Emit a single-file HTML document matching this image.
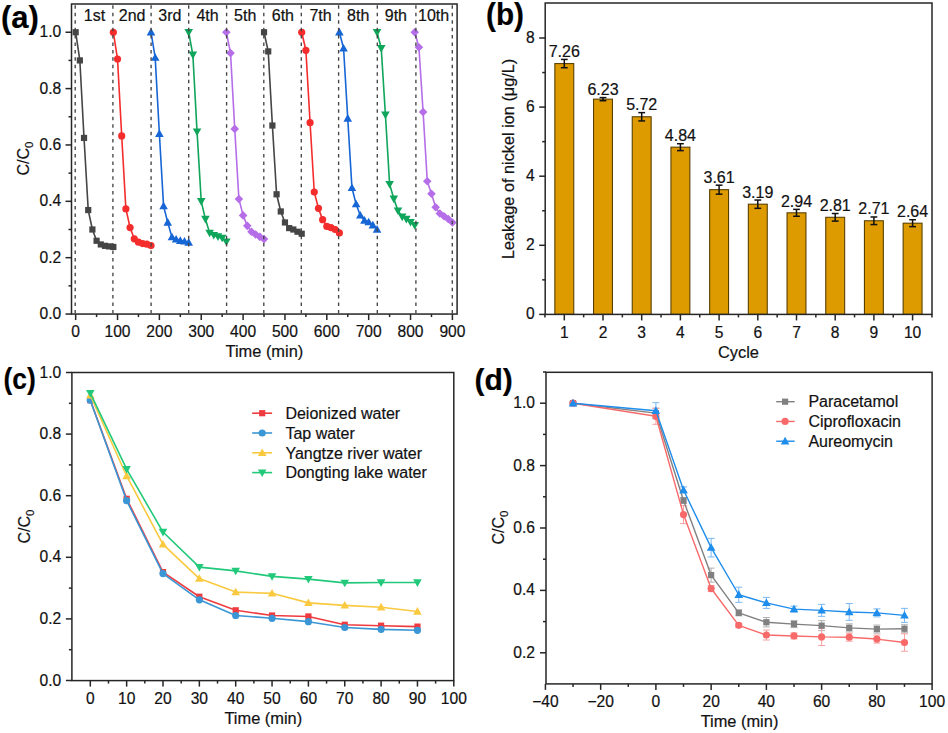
<!DOCTYPE html><html><head><meta charset="utf-8"><style>html,body{margin:0;padding:0;background:#fff;width:948px;height:733px;overflow:hidden}svg{display:block}</style></head><body><svg width="948" height="733" viewBox="0 0 948 733" font-family='"Liberation Sans", sans-serif'>
<rect width="948" height="733" fill="#fff"/>
<style>text{stroke:#111;stroke-width:0.2px;paint-order:stroke}</style>
<polyline points="75.66,32.24 79.85,60.42 84.03,137.92 88.22,210.06 92.4,229.5 96.59,240.77 100.78,244.44 104.96,245.84 109.15,246.41 113.33,246.97" fill="none" stroke="#454545" stroke-width="1.6" stroke-linejoin="round"/>
<rect x="72.56" y="29.14" width="6.2" height="6.2" fill="#454545"/>
<rect x="76.75" y="57.32" width="6.2" height="6.2" fill="#454545"/>
<rect x="80.93" y="134.82" width="6.2" height="6.2" fill="#454545"/>
<rect x="85.12" y="206.96" width="6.2" height="6.2" fill="#454545"/>
<rect x="89.3" y="226.4" width="6.2" height="6.2" fill="#454545"/>
<rect x="93.49" y="237.67" width="6.2" height="6.2" fill="#454545"/>
<rect x="97.68" y="241.34" width="6.2" height="6.2" fill="#454545"/>
<rect x="101.86" y="242.74" width="6.2" height="6.2" fill="#454545"/>
<rect x="106.05" y="243.31" width="6.2" height="6.2" fill="#454545"/>
<rect x="110.23" y="243.87" width="6.2" height="6.2" fill="#454545"/>
<polyline points="113.33,32.24 117.52,59.01 121.71,135.94 125.89,208.93 130.08,227.53 134.26,238.8 138.45,242.18 142.64,243.59 146.82,244.15 151.01,245.56" fill="none" stroke="#F42C2C" stroke-width="1.6" stroke-linejoin="round"/>
<circle cx="113.33" cy="32.24" r="3.6" fill="#F42C2C"/>
<circle cx="117.52" cy="59.01" r="3.6" fill="#F42C2C"/>
<circle cx="121.71" cy="135.94" r="3.6" fill="#F42C2C"/>
<circle cx="125.89" cy="208.93" r="3.6" fill="#F42C2C"/>
<circle cx="130.08" cy="227.53" r="3.6" fill="#F42C2C"/>
<circle cx="134.26" cy="238.8" r="3.6" fill="#F42C2C"/>
<circle cx="138.45" cy="242.18" r="3.6" fill="#F42C2C"/>
<circle cx="142.64" cy="243.59" r="3.6" fill="#F42C2C"/>
<circle cx="146.82" cy="244.15" r="3.6" fill="#F42C2C"/>
<circle cx="151.01" cy="245.56" r="3.6" fill="#F42C2C"/>
<polyline points="151.01,32.24 155.19,57.6 159.38,133.69 163.57,206.11 167.75,222.46 171.94,237.11 176.12,239.36 180.31,240.77 184.5,241.34 188.68,242.46" fill="none" stroke="#1766D6" stroke-width="1.6" stroke-linejoin="round"/>
<path d="M151.01 27.84L155.31 35.44L146.71 35.44Z" fill="#1766D6"/>
<path d="M155.19 53.2L159.49 60.8L150.89 60.8Z" fill="#1766D6"/>
<path d="M159.38 129.29L163.68 136.89L155.08 136.89Z" fill="#1766D6"/>
<path d="M163.57 201.71L167.87 209.31L159.27 209.31Z" fill="#1766D6"/>
<path d="M167.75 218.06L172.05 225.66L163.45 225.66Z" fill="#1766D6"/>
<path d="M171.94 232.71L176.24 240.31L167.64 240.31Z" fill="#1766D6"/>
<path d="M176.12 234.96L180.42 242.56L171.82 242.56Z" fill="#1766D6"/>
<path d="M180.31 236.37L184.61 243.97L176.01 243.97Z" fill="#1766D6"/>
<path d="M184.5 236.94L188.8 244.54L180.2 244.54Z" fill="#1766D6"/>
<path d="M188.68 238.06L192.98 245.66L184.38 245.66Z" fill="#1766D6"/>
<polyline points="188.68,32.24 192.87,54.78 197.05,131.72 201.24,201.32 205.43,219.07 209.61,232.88 213.8,235.14 217.98,236.55 222.17,237.95 226.36,241.62" fill="none" stroke="#0FA55A" stroke-width="1.6" stroke-linejoin="round"/>
<path d="M188.68 36.64L192.98 29.04L184.38 29.04Z" fill="#0FA55A"/>
<path d="M192.87 59.18L197.17 51.58L188.57 51.58Z" fill="#0FA55A"/>
<path d="M197.05 136.12L201.35 128.52L192.75 128.52Z" fill="#0FA55A"/>
<path d="M201.24 205.72L205.54 198.12L196.94 198.12Z" fill="#0FA55A"/>
<path d="M205.43 223.47L209.73 215.87L201.13 215.87Z" fill="#0FA55A"/>
<path d="M209.61 237.28L213.91 229.68L205.31 229.68Z" fill="#0FA55A"/>
<path d="M213.8 239.54L218.1 231.94L209.5 231.94Z" fill="#0FA55A"/>
<path d="M217.98 240.95L222.28 233.35L213.68 233.35Z" fill="#0FA55A"/>
<path d="M222.17 242.35L226.47 234.75L217.87 234.75Z" fill="#0FA55A"/>
<path d="M226.36 246.02L230.66 238.42L222.06 238.42Z" fill="#0FA55A"/>
<polyline points="226.36,32.24 230.54,53.09 234.73,128.9 238.91,199.07 243.1,215.41 247.29,225.84 251.47,231.75 255.66,234.57 259.84,236.83 264.03,239.08" fill="none" stroke="#B56EE8" stroke-width="1.6" stroke-linejoin="round"/>
<path d="M226.36 27.94L230.66 32.24L226.36 36.54L222.06 32.24Z" fill="#B56EE8"/>
<path d="M230.54 48.79L234.84 53.09L230.54 57.39L226.24 53.09Z" fill="#B56EE8"/>
<path d="M234.73 124.6L239.03 128.9L234.73 133.2L230.43 128.9Z" fill="#B56EE8"/>
<path d="M238.91 194.77L243.21 199.07L238.91 203.37L234.61 199.07Z" fill="#B56EE8"/>
<path d="M243.1 211.11L247.4 215.41L243.1 219.71L238.8 215.41Z" fill="#B56EE8"/>
<path d="M247.29 221.54L251.59 225.84L247.29 230.14L242.99 225.84Z" fill="#B56EE8"/>
<path d="M251.47 227.45L255.77 231.75L251.47 236.05L247.17 231.75Z" fill="#B56EE8"/>
<path d="M255.66 230.27L259.96 234.57L255.66 238.87L251.36 234.57Z" fill="#B56EE8"/>
<path d="M259.84 232.53L264.14 236.83L259.84 241.13L255.54 236.83Z" fill="#B56EE8"/>
<path d="M264.03 234.78L268.33 239.08L264.03 243.38L259.73 239.08Z" fill="#B56EE8"/>
<polyline points="264.03,32.24 268.22,51.4 272.4,125.52 276.59,194.28 280.77,211.46 284.96,222.46 289.15,228.09 293.33,229.5 297.52,231.75 301.7,233.73" fill="none" stroke="#454545" stroke-width="1.6" stroke-linejoin="round"/>
<rect x="260.93" y="29.14" width="6.2" height="6.2" fill="#454545"/>
<rect x="265.12" y="48.3" width="6.2" height="6.2" fill="#454545"/>
<rect x="269.3" y="122.42" width="6.2" height="6.2" fill="#454545"/>
<rect x="273.49" y="191.18" width="6.2" height="6.2" fill="#454545"/>
<rect x="277.67" y="208.36" width="6.2" height="6.2" fill="#454545"/>
<rect x="281.86" y="219.36" width="6.2" height="6.2" fill="#454545"/>
<rect x="286.05" y="224.99" width="6.2" height="6.2" fill="#454545"/>
<rect x="290.23" y="226.4" width="6.2" height="6.2" fill="#454545"/>
<rect x="294.42" y="228.65" width="6.2" height="6.2" fill="#454545"/>
<rect x="298.6" y="230.63" width="6.2" height="6.2" fill="#454545"/>
<polyline points="301.7,32.24 305.89,50.28 310.08,122.7 314.26,192.02 318.45,208.37 322.63,219.64 326.82,226.4 331.01,227.53 335.19,229.5 339.38,232.88" fill="none" stroke="#F42C2C" stroke-width="1.6" stroke-linejoin="round"/>
<circle cx="301.7" cy="32.24" r="3.6" fill="#F42C2C"/>
<circle cx="305.89" cy="50.28" r="3.6" fill="#F42C2C"/>
<circle cx="310.08" cy="122.7" r="3.6" fill="#F42C2C"/>
<circle cx="314.26" cy="192.02" r="3.6" fill="#F42C2C"/>
<circle cx="318.45" cy="208.37" r="3.6" fill="#F42C2C"/>
<circle cx="322.63" cy="219.64" r="3.6" fill="#F42C2C"/>
<circle cx="326.82" cy="226.4" r="3.6" fill="#F42C2C"/>
<circle cx="331.01" cy="227.53" r="3.6" fill="#F42C2C"/>
<circle cx="335.19" cy="229.5" r="3.6" fill="#F42C2C"/>
<circle cx="339.38" cy="232.88" r="3.6" fill="#F42C2C"/>
<polyline points="339.38,32.24 343.56,48.3 347.75,118.47 351.94,187.79 356.12,204.14 360.31,215.41 364.49,220.48 368.68,222.17 372.87,225.27 377.05,229.5" fill="none" stroke="#1766D6" stroke-width="1.6" stroke-linejoin="round"/>
<path d="M339.38 27.84L343.68 35.44L335.08 35.44Z" fill="#1766D6"/>
<path d="M343.56 43.9L347.86 51.5L339.26 51.5Z" fill="#1766D6"/>
<path d="M347.75 114.07L352.05 121.67L343.45 121.67Z" fill="#1766D6"/>
<path d="M351.94 183.39L356.24 190.99L347.64 190.99Z" fill="#1766D6"/>
<path d="M356.12 199.74L360.42 207.34L351.82 207.34Z" fill="#1766D6"/>
<path d="M360.31 211.01L364.61 218.61L356.01 218.61Z" fill="#1766D6"/>
<path d="M364.49 216.08L368.79 223.68L360.19 223.68Z" fill="#1766D6"/>
<path d="M368.68 217.77L372.98 225.37L364.38 225.37Z" fill="#1766D6"/>
<path d="M372.87 220.87L377.17 228.47L368.57 228.47Z" fill="#1766D6"/>
<path d="M377.05 225.1L381.35 232.7L372.75 232.7Z" fill="#1766D6"/>
<polyline points="377.05,32.24 381.24,48.3 385.42,114.81 389.61,184.13 393.8,198.78 397.98,210.62 402.17,216.82 406.35,219.07 410.54,222.17 414.73,225.27" fill="none" stroke="#0FA55A" stroke-width="1.6" stroke-linejoin="round"/>
<path d="M377.05 36.64L381.35 29.04L372.75 29.04Z" fill="#0FA55A"/>
<path d="M381.24 52.7L385.54 45.1L376.94 45.1Z" fill="#0FA55A"/>
<path d="M385.42 119.21L389.72 111.61L381.12 111.61Z" fill="#0FA55A"/>
<path d="M389.61 188.53L393.91 180.93L385.31 180.93Z" fill="#0FA55A"/>
<path d="M393.8 203.18L398.1 195.58L389.5 195.58Z" fill="#0FA55A"/>
<path d="M397.98 215.02L402.28 207.42L393.68 207.42Z" fill="#0FA55A"/>
<path d="M402.17 221.22L406.47 213.62L397.87 213.62Z" fill="#0FA55A"/>
<path d="M406.35 223.47L410.65 215.87L402.05 215.87Z" fill="#0FA55A"/>
<path d="M410.54 226.57L414.84 218.97L406.24 218.97Z" fill="#0FA55A"/>
<path d="M414.73 229.67L419.03 222.07L410.43 222.07Z" fill="#0FA55A"/>
<polyline points="414.73,32.24 418.91,47.18 423.1,111.99 427.28,181.31 431.47,193.71 435.66,207.24 439.84,213.44 444.03,216.26 448.21,219.07 452.4,222.46" fill="none" stroke="#B56EE8" stroke-width="1.6" stroke-linejoin="round"/>
<path d="M414.73 27.94L419.03 32.24L414.73 36.54L410.43 32.24Z" fill="#B56EE8"/>
<path d="M418.91 42.88L423.21 47.18L418.91 51.48L414.61 47.18Z" fill="#B56EE8"/>
<path d="M423.1 107.69L427.4 111.99L423.1 116.29L418.8 111.99Z" fill="#B56EE8"/>
<path d="M427.28 177.01L431.58 181.31L427.28 185.61L422.98 181.31Z" fill="#B56EE8"/>
<path d="M431.47 189.41L435.77 193.71L431.47 198.01L427.17 193.71Z" fill="#B56EE8"/>
<path d="M435.66 202.94L439.96 207.24L435.66 211.54L431.36 207.24Z" fill="#B56EE8"/>
<path d="M439.84 209.14L444.14 213.44L439.84 217.74L435.54 213.44Z" fill="#B56EE8"/>
<path d="M444.03 211.96L448.33 216.26L444.03 220.56L439.73 216.26Z" fill="#B56EE8"/>
<path d="M448.21 214.77L452.51 219.07L448.21 223.37L443.91 219.07Z" fill="#B56EE8"/>
<path d="M452.4 218.16L456.7 222.46L452.4 226.76L448.1 222.46Z" fill="#B56EE8"/>
<line x1="75.2" y1="4.75" x2="75.2" y2="313.3" stroke="#444" stroke-width="1.35" stroke-dasharray="3.5,3.93" stroke-dashoffset="-0.6"/>
<line x1="112.9" y1="4.75" x2="112.9" y2="313.3" stroke="#444" stroke-width="1.35" stroke-dasharray="3.5,3.93" stroke-dashoffset="-0.6"/>
<line x1="151.1" y1="4.75" x2="151.1" y2="313.3" stroke="#444" stroke-width="1.35" stroke-dasharray="3.5,3.93" stroke-dashoffset="-0.6"/>
<line x1="188.7" y1="4.75" x2="188.7" y2="313.3" stroke="#444" stroke-width="1.35" stroke-dasharray="3.5,3.93" stroke-dashoffset="-0.6"/>
<line x1="226.6" y1="4.75" x2="226.6" y2="313.3" stroke="#444" stroke-width="1.35" stroke-dasharray="3.5,3.93" stroke-dashoffset="-0.6"/>
<line x1="263.8" y1="4.75" x2="263.8" y2="313.3" stroke="#444" stroke-width="1.35" stroke-dasharray="3.5,3.93" stroke-dashoffset="-0.6"/>
<line x1="301.3" y1="4.75" x2="301.3" y2="313.3" stroke="#444" stroke-width="1.35" stroke-dasharray="3.5,3.93" stroke-dashoffset="-0.6"/>
<line x1="338.6" y1="4.75" x2="338.6" y2="313.3" stroke="#444" stroke-width="1.35" stroke-dasharray="3.5,3.93" stroke-dashoffset="-0.6"/>
<line x1="377.3" y1="4.75" x2="377.3" y2="313.3" stroke="#444" stroke-width="1.35" stroke-dasharray="3.5,3.93" stroke-dashoffset="-0.6"/>
<line x1="415.9" y1="4.75" x2="415.9" y2="313.3" stroke="#444" stroke-width="1.35" stroke-dasharray="3.5,3.93" stroke-dashoffset="-0.6"/>
<line x1="452.3" y1="4.75" x2="452.3" y2="313.3" stroke="#444" stroke-width="1.35" stroke-dasharray="3.5,3.93" stroke-dashoffset="-0.6"/>
<rect x="71.5" y="4" width="385.6" height="310.05" fill="none" stroke="#262626" stroke-width="1.5"/>
<line x1="68.5" y1="285.86" x2="71.5" y2="285.86" stroke="#262626" stroke-width="1.5" />
<line x1="68.5" y1="229.5" x2="71.5" y2="229.5" stroke="#262626" stroke-width="1.5" />
<line x1="68.5" y1="173.14" x2="71.5" y2="173.14" stroke="#262626" stroke-width="1.5" />
<line x1="68.5" y1="116.78" x2="71.5" y2="116.78" stroke="#262626" stroke-width="1.5" />
<line x1="68.5" y1="60.42" x2="71.5" y2="60.42" stroke="#262626" stroke-width="1.5" />
<line x1="65.5" y1="314.04" x2="71.5" y2="314.04" stroke="#262626" stroke-width="1.5" />
<text x="61.2" y="319.04" font-size="15.6" text-anchor="end" font-weight="normal" fill="#111" >0.0</text>
<line x1="65.5" y1="257.68" x2="71.5" y2="257.68" stroke="#262626" stroke-width="1.5" />
<text x="61.2" y="262.68" font-size="15.6" text-anchor="end" font-weight="normal" fill="#111" >0.2</text>
<line x1="65.5" y1="201.32" x2="71.5" y2="201.32" stroke="#262626" stroke-width="1.5" />
<text x="61.2" y="206.32" font-size="15.6" text-anchor="end" font-weight="normal" fill="#111" >0.4</text>
<line x1="65.5" y1="144.96" x2="71.5" y2="144.96" stroke="#262626" stroke-width="1.5" />
<text x="61.2" y="149.96" font-size="15.6" text-anchor="end" font-weight="normal" fill="#111" >0.6</text>
<line x1="65.5" y1="88.6" x2="71.5" y2="88.6" stroke="#262626" stroke-width="1.5" />
<text x="61.2" y="93.6" font-size="15.6" text-anchor="end" font-weight="normal" fill="#111" >0.8</text>
<line x1="65.5" y1="32.24" x2="71.5" y2="32.24" stroke="#262626" stroke-width="1.5" />
<text x="61.2" y="37.24" font-size="15.6" text-anchor="end" font-weight="normal" fill="#111" >1.0</text>
<line x1="96.59" y1="314.05" x2="96.59" y2="317.05" stroke="#262626" stroke-width="1.5" />
<line x1="138.45" y1="314.05" x2="138.45" y2="317.05" stroke="#262626" stroke-width="1.5" />
<line x1="180.31" y1="314.05" x2="180.31" y2="317.05" stroke="#262626" stroke-width="1.5" />
<line x1="222.17" y1="314.05" x2="222.17" y2="317.05" stroke="#262626" stroke-width="1.5" />
<line x1="264.03" y1="314.05" x2="264.03" y2="317.05" stroke="#262626" stroke-width="1.5" />
<line x1="305.89" y1="314.05" x2="305.89" y2="317.05" stroke="#262626" stroke-width="1.5" />
<line x1="347.75" y1="314.05" x2="347.75" y2="317.05" stroke="#262626" stroke-width="1.5" />
<line x1="389.61" y1="314.05" x2="389.61" y2="317.05" stroke="#262626" stroke-width="1.5" />
<line x1="431.47" y1="314.05" x2="431.47" y2="317.05" stroke="#262626" stroke-width="1.5" />
<line x1="75.66" y1="314.05" x2="75.66" y2="320.05" stroke="#262626" stroke-width="1.5" />
<text x="75.66" y="337" font-size="15.6" text-anchor="middle" font-weight="normal" fill="#111" >0</text>
<line x1="117.52" y1="314.05" x2="117.52" y2="320.05" stroke="#262626" stroke-width="1.5" />
<text x="117.52" y="337" font-size="15.6" text-anchor="middle" font-weight="normal" fill="#111" >100</text>
<line x1="159.38" y1="314.05" x2="159.38" y2="320.05" stroke="#262626" stroke-width="1.5" />
<text x="159.38" y="337" font-size="15.6" text-anchor="middle" font-weight="normal" fill="#111" >200</text>
<line x1="201.24" y1="314.05" x2="201.24" y2="320.05" stroke="#262626" stroke-width="1.5" />
<text x="201.24" y="337" font-size="15.6" text-anchor="middle" font-weight="normal" fill="#111" >300</text>
<line x1="243.1" y1="314.05" x2="243.1" y2="320.05" stroke="#262626" stroke-width="1.5" />
<text x="243.1" y="337" font-size="15.6" text-anchor="middle" font-weight="normal" fill="#111" >400</text>
<line x1="284.96" y1="314.05" x2="284.96" y2="320.05" stroke="#262626" stroke-width="1.5" />
<text x="284.96" y="337" font-size="15.6" text-anchor="middle" font-weight="normal" fill="#111" >500</text>
<line x1="326.82" y1="314.05" x2="326.82" y2="320.05" stroke="#262626" stroke-width="1.5" />
<text x="326.82" y="337" font-size="15.6" text-anchor="middle" font-weight="normal" fill="#111" >600</text>
<line x1="368.68" y1="314.05" x2="368.68" y2="320.05" stroke="#262626" stroke-width="1.5" />
<text x="368.68" y="337" font-size="15.6" text-anchor="middle" font-weight="normal" fill="#111" >700</text>
<line x1="410.54" y1="314.05" x2="410.54" y2="320.05" stroke="#262626" stroke-width="1.5" />
<text x="410.54" y="337" font-size="15.6" text-anchor="middle" font-weight="normal" fill="#111" >800</text>
<line x1="452.4" y1="314.05" x2="452.4" y2="320.05" stroke="#262626" stroke-width="1.5" />
<text x="452.4" y="337" font-size="15.6" text-anchor="middle" font-weight="normal" fill="#111" >900</text>
<text x="94.5" y="20.8" font-size="16" text-anchor="middle" font-weight="normal" fill="#111" >1st</text>
<text x="132.17" y="20.8" font-size="16" text-anchor="middle" font-weight="normal" fill="#111" >2nd</text>
<text x="169.84" y="20.8" font-size="16" text-anchor="middle" font-weight="normal" fill="#111" >3rd</text>
<text x="207.52" y="20.8" font-size="16" text-anchor="middle" font-weight="normal" fill="#111" >4th</text>
<text x="245.19" y="20.8" font-size="16" text-anchor="middle" font-weight="normal" fill="#111" >5th</text>
<text x="282.87" y="20.8" font-size="16" text-anchor="middle" font-weight="normal" fill="#111" >6th</text>
<text x="320.54" y="20.8" font-size="16" text-anchor="middle" font-weight="normal" fill="#111" >7th</text>
<text x="358.22" y="20.8" font-size="16" text-anchor="middle" font-weight="normal" fill="#111" >8th</text>
<text x="395.89" y="20.8" font-size="16" text-anchor="middle" font-weight="normal" fill="#111" >9th</text>
<text x="433.56" y="20.8" font-size="16" text-anchor="middle" font-weight="normal" fill="#111" >10th</text>
<text x="264.4" y="357" font-size="16.4" text-anchor="middle" font-weight="normal" fill="#111" >Time (min)</text>
<text transform="translate(28.5,158.5) rotate(-90)" x="0" y="0" font-size="16" text-anchor="middle" fill="#111">C/C<tspan font-size="11.52" dy="4">0</tspan></text>
<text x="1" y="28.3" font-size="31" text-anchor="start" font-weight="bold" fill="#000" >(a)</text>
<rect x="554.85" y="63.57" width="18.9" height="250.83" fill="#DE9B00" stroke="#5a4000" stroke-width="1.1"/>
<line x1="564.3" y1="59.42" x2="564.3" y2="67.71" stroke="#111" stroke-width="1.5" />
<line x1="560.9" y1="59.42" x2="567.7" y2="59.42" stroke="#111" stroke-width="1.5" />
<line x1="560.9" y1="67.71" x2="567.7" y2="67.71" stroke="#111" stroke-width="1.5" />
<text x="564.3" y="56.92" font-size="16" text-anchor="middle" font-weight="normal" fill="#111" >7.26</text>
<rect x="593.55" y="99.15" width="18.9" height="215.25" fill="#DE9B00" stroke="#5a4000" stroke-width="1.1"/>
<line x1="603" y1="97.6" x2="603" y2="100.71" stroke="#111" stroke-width="1.5" />
<line x1="599.6" y1="97.6" x2="606.4" y2="97.6" stroke="#111" stroke-width="1.5" />
<line x1="599.6" y1="100.71" x2="606.4" y2="100.71" stroke="#111" stroke-width="1.5" />
<text x="603" y="95.1" font-size="16" text-anchor="middle" font-weight="normal" fill="#111" >6.23</text>
<rect x="632.25" y="116.77" width="18.9" height="197.63" fill="#DE9B00" stroke="#5a4000" stroke-width="1.1"/>
<line x1="641.7" y1="112.63" x2="641.7" y2="120.92" stroke="#111" stroke-width="1.5" />
<line x1="638.3" y1="112.63" x2="645.1" y2="112.63" stroke="#111" stroke-width="1.5" />
<line x1="638.3" y1="120.92" x2="645.1" y2="120.92" stroke="#111" stroke-width="1.5" />
<text x="641.7" y="110.13" font-size="16" text-anchor="middle" font-weight="normal" fill="#111" >5.72</text>
<rect x="670.95" y="147.18" width="18.9" height="167.22" fill="#DE9B00" stroke="#5a4000" stroke-width="1.1"/>
<line x1="680.4" y1="143.72" x2="680.4" y2="150.63" stroke="#111" stroke-width="1.5" />
<line x1="677" y1="143.72" x2="683.8" y2="143.72" stroke="#111" stroke-width="1.5" />
<line x1="677" y1="150.63" x2="683.8" y2="150.63" stroke="#111" stroke-width="1.5" />
<text x="680.4" y="141.22" font-size="16" text-anchor="middle" font-weight="normal" fill="#111" >4.84</text>
<rect x="709.65" y="189.67" width="18.9" height="124.73" fill="#DE9B00" stroke="#5a4000" stroke-width="1.1"/>
<line x1="719.1" y1="185.18" x2="719.1" y2="194.17" stroke="#111" stroke-width="1.5" />
<line x1="715.7" y1="185.18" x2="722.5" y2="185.18" stroke="#111" stroke-width="1.5" />
<line x1="715.7" y1="194.17" x2="722.5" y2="194.17" stroke="#111" stroke-width="1.5" />
<text x="719.1" y="182.68" font-size="16" text-anchor="middle" font-weight="normal" fill="#111" >3.61</text>
<rect x="748.35" y="204.19" width="18.9" height="110.21" fill="#DE9B00" stroke="#5a4000" stroke-width="1.1"/>
<line x1="757.8" y1="200.04" x2="757.8" y2="208.33" stroke="#111" stroke-width="1.5" />
<line x1="754.4" y1="200.04" x2="761.2" y2="200.04" stroke="#111" stroke-width="1.5" />
<line x1="754.4" y1="208.33" x2="761.2" y2="208.33" stroke="#111" stroke-width="1.5" />
<text x="757.8" y="197.54" font-size="16" text-anchor="middle" font-weight="normal" fill="#111" >3.19</text>
<rect x="787.05" y="212.82" width="18.9" height="101.58" fill="#DE9B00" stroke="#5a4000" stroke-width="1.1"/>
<line x1="796.5" y1="209.37" x2="796.5" y2="216.28" stroke="#111" stroke-width="1.5" />
<line x1="793.1" y1="209.37" x2="799.9" y2="209.37" stroke="#111" stroke-width="1.5" />
<line x1="793.1" y1="216.28" x2="799.9" y2="216.28" stroke="#111" stroke-width="1.5" />
<text x="796.5" y="206.87" font-size="16" text-anchor="middle" font-weight="normal" fill="#111" >2.94</text>
<rect x="825.75" y="217.31" width="18.9" height="97.09" fill="#DE9B00" stroke="#5a4000" stroke-width="1.1"/>
<line x1="835.2" y1="213.51" x2="835.2" y2="221.11" stroke="#111" stroke-width="1.5" />
<line x1="831.8" y1="213.51" x2="838.6" y2="213.51" stroke="#111" stroke-width="1.5" />
<line x1="831.8" y1="221.11" x2="838.6" y2="221.11" stroke="#111" stroke-width="1.5" />
<text x="835.2" y="211.01" font-size="16" text-anchor="middle" font-weight="normal" fill="#111" >2.81</text>
<rect x="864.45" y="220.77" width="18.9" height="93.63" fill="#DE9B00" stroke="#5a4000" stroke-width="1.1"/>
<line x1="873.9" y1="216.97" x2="873.9" y2="224.57" stroke="#111" stroke-width="1.5" />
<line x1="870.5" y1="216.97" x2="877.3" y2="216.97" stroke="#111" stroke-width="1.5" />
<line x1="870.5" y1="224.57" x2="877.3" y2="224.57" stroke="#111" stroke-width="1.5" />
<text x="873.9" y="214.47" font-size="16" text-anchor="middle" font-weight="normal" fill="#111" >2.71</text>
<rect x="903.15" y="223.19" width="18.9" height="91.21" fill="#DE9B00" stroke="#5a4000" stroke-width="1.1"/>
<line x1="912.6" y1="219.73" x2="912.6" y2="226.64" stroke="#111" stroke-width="1.5" />
<line x1="909.2" y1="219.73" x2="916" y2="219.73" stroke="#111" stroke-width="1.5" />
<line x1="909.2" y1="226.64" x2="916" y2="226.64" stroke="#111" stroke-width="1.5" />
<text x="912.6" y="217.23" font-size="16" text-anchor="middle" font-weight="normal" fill="#111" >2.64</text>
<rect x="545.2" y="3" width="386.8" height="311.4" fill="none" stroke="#262626" stroke-width="1.5"/>
<line x1="542.2" y1="279.85" x2="545.2" y2="279.85" stroke="#262626" stroke-width="1.5" />
<line x1="542.2" y1="210.75" x2="545.2" y2="210.75" stroke="#262626" stroke-width="1.5" />
<line x1="542.2" y1="141.65" x2="545.2" y2="141.65" stroke="#262626" stroke-width="1.5" />
<line x1="542.2" y1="72.55" x2="545.2" y2="72.55" stroke="#262626" stroke-width="1.5" />
<line x1="539.2" y1="314.4" x2="545.2" y2="314.4" stroke="#262626" stroke-width="1.5" />
<text x="534.8" y="319.4" font-size="15.6" text-anchor="end" font-weight="normal" fill="#111" >0</text>
<line x1="539.2" y1="245.3" x2="545.2" y2="245.3" stroke="#262626" stroke-width="1.5" />
<text x="534.8" y="250.3" font-size="15.6" text-anchor="end" font-weight="normal" fill="#111" >2</text>
<line x1="539.2" y1="176.2" x2="545.2" y2="176.2" stroke="#262626" stroke-width="1.5" />
<text x="534.8" y="181.2" font-size="15.6" text-anchor="end" font-weight="normal" fill="#111" >4</text>
<line x1="539.2" y1="107.1" x2="545.2" y2="107.1" stroke="#262626" stroke-width="1.5" />
<text x="534.8" y="112.1" font-size="15.6" text-anchor="end" font-weight="normal" fill="#111" >6</text>
<line x1="539.2" y1="38" x2="545.2" y2="38" stroke="#262626" stroke-width="1.5" />
<text x="534.8" y="43" font-size="15.6" text-anchor="end" font-weight="normal" fill="#111" >8</text>
<line x1="544.95" y1="314.4" x2="544.95" y2="317.4" stroke="#262626" stroke-width="1.5" />
<line x1="583.65" y1="314.4" x2="583.65" y2="317.4" stroke="#262626" stroke-width="1.5" />
<line x1="622.35" y1="314.4" x2="622.35" y2="317.4" stroke="#262626" stroke-width="1.5" />
<line x1="661.05" y1="314.4" x2="661.05" y2="317.4" stroke="#262626" stroke-width="1.5" />
<line x1="699.75" y1="314.4" x2="699.75" y2="317.4" stroke="#262626" stroke-width="1.5" />
<line x1="738.45" y1="314.4" x2="738.45" y2="317.4" stroke="#262626" stroke-width="1.5" />
<line x1="777.15" y1="314.4" x2="777.15" y2="317.4" stroke="#262626" stroke-width="1.5" />
<line x1="815.85" y1="314.4" x2="815.85" y2="317.4" stroke="#262626" stroke-width="1.5" />
<line x1="854.55" y1="314.4" x2="854.55" y2="317.4" stroke="#262626" stroke-width="1.5" />
<line x1="893.25" y1="314.4" x2="893.25" y2="317.4" stroke="#262626" stroke-width="1.5" />
<line x1="931.95" y1="314.4" x2="931.95" y2="317.4" stroke="#262626" stroke-width="1.5" />
<line x1="564.3" y1="314.4" x2="564.3" y2="320.4" stroke="#262626" stroke-width="1.5" />
<text x="564.3" y="338" font-size="15.6" text-anchor="middle" font-weight="normal" fill="#111" >1</text>
<line x1="603" y1="314.4" x2="603" y2="320.4" stroke="#262626" stroke-width="1.5" />
<text x="603" y="338" font-size="15.6" text-anchor="middle" font-weight="normal" fill="#111" >2</text>
<line x1="641.7" y1="314.4" x2="641.7" y2="320.4" stroke="#262626" stroke-width="1.5" />
<text x="641.7" y="338" font-size="15.6" text-anchor="middle" font-weight="normal" fill="#111" >3</text>
<line x1="680.4" y1="314.4" x2="680.4" y2="320.4" stroke="#262626" stroke-width="1.5" />
<text x="680.4" y="338" font-size="15.6" text-anchor="middle" font-weight="normal" fill="#111" >4</text>
<line x1="719.1" y1="314.4" x2="719.1" y2="320.4" stroke="#262626" stroke-width="1.5" />
<text x="719.1" y="338" font-size="15.6" text-anchor="middle" font-weight="normal" fill="#111" >5</text>
<line x1="757.8" y1="314.4" x2="757.8" y2="320.4" stroke="#262626" stroke-width="1.5" />
<text x="757.8" y="338" font-size="15.6" text-anchor="middle" font-weight="normal" fill="#111" >6</text>
<line x1="796.5" y1="314.4" x2="796.5" y2="320.4" stroke="#262626" stroke-width="1.5" />
<text x="796.5" y="338" font-size="15.6" text-anchor="middle" font-weight="normal" fill="#111" >7</text>
<line x1="835.2" y1="314.4" x2="835.2" y2="320.4" stroke="#262626" stroke-width="1.5" />
<text x="835.2" y="338" font-size="15.6" text-anchor="middle" font-weight="normal" fill="#111" >8</text>
<line x1="873.9" y1="314.4" x2="873.9" y2="320.4" stroke="#262626" stroke-width="1.5" />
<text x="873.9" y="338" font-size="15.6" text-anchor="middle" font-weight="normal" fill="#111" >9</text>
<line x1="912.6" y1="314.4" x2="912.6" y2="320.4" stroke="#262626" stroke-width="1.5" />
<text x="912.6" y="338" font-size="15.6" text-anchor="middle" font-weight="normal" fill="#111" >10</text>
<text x="738.5" y="357.5" font-size="16.4" text-anchor="middle" font-weight="normal" fill="#111" >Cycle</text>
<text transform="translate(514,158.9) rotate(-90)" font-size="16.3" text-anchor="middle" fill="#111">Leakage of nickel ion (μg/L)</text>
<text transform="translate(486,25.4) scale(0.93,1)" font-size="32" font-weight="bold" fill="#000">(b)</text>
<polyline points="90.3,400.22 126.65,498.78 163,572.08 199.35,596.72 235.7,610.28 272.05,615.51 308.4,616.44 344.75,624.75 381.1,625.68 417.45,626.6" fill="none" stroke="#EF3B3F" stroke-width="1.6" stroke-linejoin="round"/>
<rect x="87.2" y="397.12" width="6.2" height="6.2" fill="#EF3B3F"/>
<rect x="123.55" y="495.68" width="6.2" height="6.2" fill="#EF3B3F"/>
<rect x="159.9" y="568.98" width="6.2" height="6.2" fill="#EF3B3F"/>
<rect x="196.25" y="593.62" width="6.2" height="6.2" fill="#EF3B3F"/>
<rect x="232.6" y="607.18" width="6.2" height="6.2" fill="#EF3B3F"/>
<rect x="268.95" y="612.41" width="6.2" height="6.2" fill="#EF3B3F"/>
<rect x="305.3" y="613.34" width="6.2" height="6.2" fill="#EF3B3F"/>
<rect x="341.65" y="621.65" width="6.2" height="6.2" fill="#EF3B3F"/>
<rect x="378" y="622.58" width="6.2" height="6.2" fill="#EF3B3F"/>
<rect x="414.35" y="623.5" width="6.2" height="6.2" fill="#EF3B3F"/>
<polyline points="90.3,400.22 126.65,500.63 163,573.62 199.35,599.8 235.7,615.51 272.05,618.28 308.4,621.67 344.75,627.52 381.1,629.37 417.45,630.3" fill="none" stroke="#3A96D4" stroke-width="1.6" stroke-linejoin="round"/>
<circle cx="90.3" cy="400.22" r="3.6" fill="#3A96D4"/>
<circle cx="126.65" cy="500.63" r="3.6" fill="#3A96D4"/>
<circle cx="163" cy="573.62" r="3.6" fill="#3A96D4"/>
<circle cx="199.35" cy="599.8" r="3.6" fill="#3A96D4"/>
<circle cx="235.7" cy="615.51" r="3.6" fill="#3A96D4"/>
<circle cx="272.05" cy="618.28" r="3.6" fill="#3A96D4"/>
<circle cx="308.4" cy="621.67" r="3.6" fill="#3A96D4"/>
<circle cx="344.75" cy="627.52" r="3.6" fill="#3A96D4"/>
<circle cx="381.1" cy="629.37" r="3.6" fill="#3A96D4"/>
<circle cx="417.45" cy="630.3" r="3.6" fill="#3A96D4"/>
<polyline points="90.3,395.29 126.65,475.99 163,544.36 199.35,578.55 235.7,592.1 272.05,593.34 308.4,602.88 344.75,605.35 381.1,607.2 417.45,611.51" fill="none" stroke="#F9C940" stroke-width="1.6" stroke-linejoin="round"/>
<path d="M90.3 390.89L94.6 398.49L86 398.49Z" fill="#F9C940"/>
<path d="M126.65 471.59L130.95 479.19L122.35 479.19Z" fill="#F9C940"/>
<path d="M163 539.96L167.3 547.56L158.7 547.56Z" fill="#F9C940"/>
<path d="M199.35 574.15L203.65 581.75L195.05 581.75Z" fill="#F9C940"/>
<path d="M235.7 587.7L240 595.3L231.4 595.3Z" fill="#F9C940"/>
<path d="M272.05 588.94L276.35 596.54L267.75 596.54Z" fill="#F9C940"/>
<path d="M308.4 598.48L312.7 606.08L304.1 606.08Z" fill="#F9C940"/>
<path d="M344.75 600.95L349.05 608.55L340.45 608.55Z" fill="#F9C940"/>
<path d="M381.1 602.8L385.4 610.4L376.8 610.4Z" fill="#F9C940"/>
<path d="M417.45 607.11L421.75 614.71L413.15 614.71Z" fill="#F9C940"/>
<polyline points="90.3,393.14 126.65,469.21 163,532.04 199.35,567.16 235.7,570.85 272.05,576.4 308.4,579.17 344.75,582.86 381.1,582.56 417.45,582.56" fill="none" stroke="#22C97A" stroke-width="1.6" stroke-linejoin="round"/>
<path d="M90.3 397.54L94.6 389.94L86 389.94Z" fill="#22C97A"/>
<path d="M126.65 473.61L130.95 466.01L122.35 466.01Z" fill="#22C97A"/>
<path d="M163 536.44L167.3 528.84L158.7 528.84Z" fill="#22C97A"/>
<path d="M199.35 571.56L203.65 563.96L195.05 563.96Z" fill="#22C97A"/>
<path d="M235.7 575.25L240 567.65L231.4 567.65Z" fill="#22C97A"/>
<path d="M272.05 580.8L276.35 573.2L267.75 573.2Z" fill="#22C97A"/>
<path d="M308.4 583.57L312.7 575.97L304.1 575.97Z" fill="#22C97A"/>
<path d="M344.75 587.26L349.05 579.66L340.45 579.66Z" fill="#22C97A"/>
<path d="M381.1 586.96L385.4 579.36L376.8 579.36Z" fill="#22C97A"/>
<path d="M417.45 586.96L421.75 579.36L413.15 579.36Z" fill="#22C97A"/>
<rect x="71.9" y="372.5" width="381.9" height="308.1" fill="none" stroke="#262626" stroke-width="1.5"/>
<line x1="68.9" y1="649.7" x2="71.9" y2="649.7" stroke="#262626" stroke-width="1.5" />
<line x1="68.9" y1="588.1" x2="71.9" y2="588.1" stroke="#262626" stroke-width="1.5" />
<line x1="68.9" y1="526.5" x2="71.9" y2="526.5" stroke="#262626" stroke-width="1.5" />
<line x1="68.9" y1="464.9" x2="71.9" y2="464.9" stroke="#262626" stroke-width="1.5" />
<line x1="68.9" y1="403.3" x2="71.9" y2="403.3" stroke="#262626" stroke-width="1.5" />
<line x1="65.9" y1="680.5" x2="71.9" y2="680.5" stroke="#262626" stroke-width="1.5" />
<text x="61.2" y="685.5" font-size="15.6" text-anchor="end" font-weight="normal" fill="#111" >0.0</text>
<line x1="65.9" y1="618.9" x2="71.9" y2="618.9" stroke="#262626" stroke-width="1.5" />
<text x="61.2" y="623.9" font-size="15.6" text-anchor="end" font-weight="normal" fill="#111" >0.2</text>
<line x1="65.9" y1="557.3" x2="71.9" y2="557.3" stroke="#262626" stroke-width="1.5" />
<text x="61.2" y="562.3" font-size="15.6" text-anchor="end" font-weight="normal" fill="#111" >0.4</text>
<line x1="65.9" y1="495.7" x2="71.9" y2="495.7" stroke="#262626" stroke-width="1.5" />
<text x="61.2" y="500.7" font-size="15.6" text-anchor="end" font-weight="normal" fill="#111" >0.6</text>
<line x1="65.9" y1="434.1" x2="71.9" y2="434.1" stroke="#262626" stroke-width="1.5" />
<text x="61.2" y="439.1" font-size="15.6" text-anchor="end" font-weight="normal" fill="#111" >0.8</text>
<line x1="65.9" y1="372.5" x2="71.9" y2="372.5" stroke="#262626" stroke-width="1.5" />
<text x="61.2" y="377.5" font-size="15.6" text-anchor="end" font-weight="normal" fill="#111" >1.0</text>
<line x1="108.47" y1="680.6" x2="108.47" y2="683.6" stroke="#262626" stroke-width="1.5" />
<line x1="144.82" y1="680.6" x2="144.82" y2="683.6" stroke="#262626" stroke-width="1.5" />
<line x1="181.18" y1="680.6" x2="181.18" y2="683.6" stroke="#262626" stroke-width="1.5" />
<line x1="217.52" y1="680.6" x2="217.52" y2="683.6" stroke="#262626" stroke-width="1.5" />
<line x1="253.88" y1="680.6" x2="253.88" y2="683.6" stroke="#262626" stroke-width="1.5" />
<line x1="290.22" y1="680.6" x2="290.22" y2="683.6" stroke="#262626" stroke-width="1.5" />
<line x1="326.57" y1="680.6" x2="326.57" y2="683.6" stroke="#262626" stroke-width="1.5" />
<line x1="362.93" y1="680.6" x2="362.93" y2="683.6" stroke="#262626" stroke-width="1.5" />
<line x1="399.27" y1="680.6" x2="399.27" y2="683.6" stroke="#262626" stroke-width="1.5" />
<line x1="435.62" y1="680.6" x2="435.62" y2="683.6" stroke="#262626" stroke-width="1.5" />
<line x1="90.3" y1="680.6" x2="90.3" y2="686.6" stroke="#262626" stroke-width="1.5" />
<text x="90.3" y="703.5" font-size="15.6" text-anchor="middle" font-weight="normal" fill="#111" >0</text>
<line x1="126.65" y1="680.6" x2="126.65" y2="686.6" stroke="#262626" stroke-width="1.5" />
<text x="126.65" y="703.5" font-size="15.6" text-anchor="middle" font-weight="normal" fill="#111" >10</text>
<line x1="163" y1="680.6" x2="163" y2="686.6" stroke="#262626" stroke-width="1.5" />
<text x="163" y="703.5" font-size="15.6" text-anchor="middle" font-weight="normal" fill="#111" >20</text>
<line x1="199.35" y1="680.6" x2="199.35" y2="686.6" stroke="#262626" stroke-width="1.5" />
<text x="199.35" y="703.5" font-size="15.6" text-anchor="middle" font-weight="normal" fill="#111" >30</text>
<line x1="235.7" y1="680.6" x2="235.7" y2="686.6" stroke="#262626" stroke-width="1.5" />
<text x="235.7" y="703.5" font-size="15.6" text-anchor="middle" font-weight="normal" fill="#111" >40</text>
<line x1="272.05" y1="680.6" x2="272.05" y2="686.6" stroke="#262626" stroke-width="1.5" />
<text x="272.05" y="703.5" font-size="15.6" text-anchor="middle" font-weight="normal" fill="#111" >50</text>
<line x1="308.4" y1="680.6" x2="308.4" y2="686.6" stroke="#262626" stroke-width="1.5" />
<text x="308.4" y="703.5" font-size="15.6" text-anchor="middle" font-weight="normal" fill="#111" >60</text>
<line x1="344.75" y1="680.6" x2="344.75" y2="686.6" stroke="#262626" stroke-width="1.5" />
<text x="344.75" y="703.5" font-size="15.6" text-anchor="middle" font-weight="normal" fill="#111" >70</text>
<line x1="381.1" y1="680.6" x2="381.1" y2="686.6" stroke="#262626" stroke-width="1.5" />
<text x="381.1" y="703.5" font-size="15.6" text-anchor="middle" font-weight="normal" fill="#111" >80</text>
<line x1="417.45" y1="680.6" x2="417.45" y2="686.6" stroke="#262626" stroke-width="1.5" />
<text x="417.45" y="703.5" font-size="15.6" text-anchor="middle" font-weight="normal" fill="#111" >90</text>
<line x1="453.8" y1="680.6" x2="453.8" y2="686.6" stroke="#262626" stroke-width="1.5" />
<text x="453.8" y="703.5" font-size="15.6" text-anchor="middle" font-weight="normal" fill="#111" >100</text>
<text x="263.3" y="724" font-size="16.4" text-anchor="middle" font-weight="normal" fill="#111" >Time (min)</text>
<text transform="translate(30,526.5) rotate(-90)" x="0" y="0" font-size="16" text-anchor="middle" fill="#111">C/C<tspan font-size="11.52" dy="4">0</tspan></text>
<line x1="252.2" y1="413.2" x2="272.1" y2="413.2" stroke="#EF3B3F" stroke-width="1.6" />
<rect x="259.1" y="410.1" width="6.2" height="6.2" fill="#EF3B3F"/>
<text x="285.4" y="418.9" font-size="16" text-anchor="start" font-weight="normal" fill="#111" >Deionized water</text>
<line x1="252.2" y1="433" x2="272.1" y2="433" stroke="#3A96D4" stroke-width="1.6" />
<circle cx="262.2" cy="433" r="3.6" fill="#3A96D4"/>
<text x="285.4" y="438.7" font-size="16" text-anchor="start" font-weight="normal" fill="#111" >Tap water</text>
<line x1="252.2" y1="452.8" x2="272.1" y2="452.8" stroke="#F9C940" stroke-width="1.6" />
<path d="M262.2 448.4L266.5 456L257.9 456Z" fill="#F9C940"/>
<text x="285.4" y="458.5" font-size="16" text-anchor="start" font-weight="normal" fill="#111" >Yangtze river water</text>
<line x1="252.2" y1="472.6" x2="272.1" y2="472.6" stroke="#22C97A" stroke-width="1.6" />
<path d="M262.2 477L266.5 469.4L257.9 469.4Z" fill="#22C97A"/>
<text x="285.4" y="478.3" font-size="16" text-anchor="start" font-weight="normal" fill="#111" >Dongting lake water</text>
<text transform="translate(3.5,389.3) scale(0.88,1)" font-size="30" font-weight="bold" fill="#000">(c)</text>
<line x1="573.04" y1="402.2" x2="573.04" y2="404.2" stroke="#b0b0b0" stroke-width="1" />
<line x1="569.54" y1="402.2" x2="576.54" y2="402.2" stroke="#b0b0b0" stroke-width="1" />
<line x1="569.54" y1="404.2" x2="576.54" y2="404.2" stroke="#b0b0b0" stroke-width="1" />
<line x1="655.9" y1="408.18" x2="655.9" y2="418.18" stroke="#b0b0b0" stroke-width="1" />
<line x1="652.4" y1="408.18" x2="659.4" y2="408.18" stroke="#b0b0b0" stroke-width="1" />
<line x1="652.4" y1="418.18" x2="659.4" y2="418.18" stroke="#b0b0b0" stroke-width="1" />
<line x1="683.52" y1="497.54" x2="683.52" y2="503.54" stroke="#b0b0b0" stroke-width="1" />
<line x1="680.02" y1="497.54" x2="687.02" y2="497.54" stroke="#b0b0b0" stroke-width="1" />
<line x1="680.02" y1="503.54" x2="687.02" y2="503.54" stroke="#b0b0b0" stroke-width="1" />
<line x1="711.14" y1="568.11" x2="711.14" y2="582.11" stroke="#b0b0b0" stroke-width="1" />
<line x1="707.64" y1="568.11" x2="714.64" y2="568.11" stroke="#b0b0b0" stroke-width="1" />
<line x1="707.64" y1="582.11" x2="714.64" y2="582.11" stroke="#b0b0b0" stroke-width="1" />
<line x1="738.76" y1="609.86" x2="738.76" y2="615.86" stroke="#b0b0b0" stroke-width="1" />
<line x1="735.26" y1="609.86" x2="742.26" y2="609.86" stroke="#b0b0b0" stroke-width="1" />
<line x1="735.26" y1="615.86" x2="742.26" y2="615.86" stroke="#b0b0b0" stroke-width="1" />
<line x1="766.38" y1="617.52" x2="766.38" y2="626.92" stroke="#b0b0b0" stroke-width="1" />
<line x1="762.88" y1="617.52" x2="769.88" y2="617.52" stroke="#b0b0b0" stroke-width="1" />
<line x1="762.88" y1="626.92" x2="769.88" y2="626.92" stroke="#b0b0b0" stroke-width="1" />
<line x1="794" y1="620.6" x2="794" y2="627.6" stroke="#b0b0b0" stroke-width="1" />
<line x1="790.5" y1="620.6" x2="797.5" y2="620.6" stroke="#b0b0b0" stroke-width="1" />
<line x1="790.5" y1="627.6" x2="797.5" y2="627.6" stroke="#b0b0b0" stroke-width="1" />
<line x1="821.62" y1="620.66" x2="821.62" y2="630.66" stroke="#b0b0b0" stroke-width="1" />
<line x1="818.12" y1="620.66" x2="825.12" y2="620.66" stroke="#b0b0b0" stroke-width="1" />
<line x1="818.12" y1="630.66" x2="825.12" y2="630.66" stroke="#b0b0b0" stroke-width="1" />
<line x1="849.24" y1="623.84" x2="849.24" y2="631.84" stroke="#b0b0b0" stroke-width="1" />
<line x1="845.74" y1="623.84" x2="852.74" y2="623.84" stroke="#b0b0b0" stroke-width="1" />
<line x1="845.74" y1="631.84" x2="852.74" y2="631.84" stroke="#b0b0b0" stroke-width="1" />
<line x1="876.86" y1="625.09" x2="876.86" y2="633.09" stroke="#b0b0b0" stroke-width="1" />
<line x1="873.36" y1="625.09" x2="880.36" y2="625.09" stroke="#b0b0b0" stroke-width="1" />
<line x1="873.36" y1="633.09" x2="880.36" y2="633.09" stroke="#b0b0b0" stroke-width="1" />
<line x1="904.48" y1="624.78" x2="904.48" y2="632.78" stroke="#b0b0b0" stroke-width="1" />
<line x1="900.98" y1="624.78" x2="907.98" y2="624.78" stroke="#b0b0b0" stroke-width="1" />
<line x1="900.98" y1="632.78" x2="907.98" y2="632.78" stroke="#b0b0b0" stroke-width="1" />
<line x1="573.04" y1="402.2" x2="573.04" y2="404.2" stroke="#f9a0a0" stroke-width="1" />
<line x1="569.54" y1="402.2" x2="576.54" y2="402.2" stroke="#f9a0a0" stroke-width="1" />
<line x1="569.54" y1="404.2" x2="576.54" y2="404.2" stroke="#f9a0a0" stroke-width="1" />
<line x1="655.9" y1="408.3" x2="655.9" y2="424.3" stroke="#f9a0a0" stroke-width="1" />
<line x1="652.4" y1="408.3" x2="659.4" y2="408.3" stroke="#f9a0a0" stroke-width="1" />
<line x1="652.4" y1="424.3" x2="659.4" y2="424.3" stroke="#f9a0a0" stroke-width="1" />
<line x1="683.52" y1="505.58" x2="683.52" y2="523.58" stroke="#f9a0a0" stroke-width="1" />
<line x1="680.02" y1="505.58" x2="687.02" y2="505.58" stroke="#f9a0a0" stroke-width="1" />
<line x1="680.02" y1="523.58" x2="687.02" y2="523.58" stroke="#f9a0a0" stroke-width="1" />
<line x1="711.14" y1="585.53" x2="711.14" y2="591.53" stroke="#f9a0a0" stroke-width="1" />
<line x1="707.64" y1="585.53" x2="714.64" y2="585.53" stroke="#f9a0a0" stroke-width="1" />
<line x1="707.64" y1="591.53" x2="714.64" y2="591.53" stroke="#f9a0a0" stroke-width="1" />
<line x1="738.76" y1="623.34" x2="738.76" y2="627.34" stroke="#f9a0a0" stroke-width="1" />
<line x1="735.26" y1="623.34" x2="742.26" y2="623.34" stroke="#f9a0a0" stroke-width="1" />
<line x1="735.26" y1="627.34" x2="742.26" y2="627.34" stroke="#f9a0a0" stroke-width="1" />
<line x1="766.38" y1="630.02" x2="766.38" y2="640.02" stroke="#f9a0a0" stroke-width="1" />
<line x1="762.88" y1="630.02" x2="769.88" y2="630.02" stroke="#f9a0a0" stroke-width="1" />
<line x1="762.88" y1="640.02" x2="769.88" y2="640.02" stroke="#f9a0a0" stroke-width="1" />
<line x1="794" y1="632.95" x2="794" y2="638.95" stroke="#f9a0a0" stroke-width="1" />
<line x1="790.5" y1="632.95" x2="797.5" y2="632.95" stroke="#f9a0a0" stroke-width="1" />
<line x1="790.5" y1="638.95" x2="797.5" y2="638.95" stroke="#f9a0a0" stroke-width="1" />
<line x1="821.62" y1="628.29" x2="821.62" y2="645.49" stroke="#f9a0a0" stroke-width="1" />
<line x1="818.12" y1="628.29" x2="825.12" y2="628.29" stroke="#f9a0a0" stroke-width="1" />
<line x1="818.12" y1="645.49" x2="825.12" y2="645.49" stroke="#f9a0a0" stroke-width="1" />
<line x1="849.24" y1="633.2" x2="849.24" y2="641.2" stroke="#f9a0a0" stroke-width="1" />
<line x1="845.74" y1="633.2" x2="852.74" y2="633.2" stroke="#f9a0a0" stroke-width="1" />
<line x1="845.74" y1="641.2" x2="852.74" y2="641.2" stroke="#f9a0a0" stroke-width="1" />
<line x1="876.86" y1="635.07" x2="876.86" y2="643.07" stroke="#f9a0a0" stroke-width="1" />
<line x1="873.36" y1="635.07" x2="880.36" y2="635.07" stroke="#f9a0a0" stroke-width="1" />
<line x1="873.36" y1="643.07" x2="880.36" y2="643.07" stroke="#f9a0a0" stroke-width="1" />
<line x1="904.48" y1="633.8" x2="904.48" y2="651.2" stroke="#f9a0a0" stroke-width="1" />
<line x1="900.98" y1="633.8" x2="907.98" y2="633.8" stroke="#f9a0a0" stroke-width="1" />
<line x1="900.98" y1="651.2" x2="907.98" y2="651.2" stroke="#f9a0a0" stroke-width="1" />
<line x1="573.04" y1="402.2" x2="573.04" y2="404.2" stroke="#7ab8f0" stroke-width="1" />
<line x1="569.54" y1="402.2" x2="576.54" y2="402.2" stroke="#7ab8f0" stroke-width="1" />
<line x1="569.54" y1="404.2" x2="576.54" y2="404.2" stroke="#7ab8f0" stroke-width="1" />
<line x1="655.9" y1="402.69" x2="655.9" y2="418.69" stroke="#7ab8f0" stroke-width="1" />
<line x1="652.4" y1="402.69" x2="659.4" y2="402.69" stroke="#7ab8f0" stroke-width="1" />
<line x1="652.4" y1="418.69" x2="659.4" y2="418.69" stroke="#7ab8f0" stroke-width="1" />
<line x1="683.52" y1="486.94" x2="683.52" y2="492.94" stroke="#7ab8f0" stroke-width="1" />
<line x1="680.02" y1="486.94" x2="687.02" y2="486.94" stroke="#7ab8f0" stroke-width="1" />
<line x1="680.02" y1="492.94" x2="687.02" y2="492.94" stroke="#7ab8f0" stroke-width="1" />
<line x1="711.14" y1="538.36" x2="711.14" y2="556.96" stroke="#7ab8f0" stroke-width="1" />
<line x1="707.64" y1="538.36" x2="714.64" y2="538.36" stroke="#7ab8f0" stroke-width="1" />
<line x1="707.64" y1="556.96" x2="714.64" y2="556.96" stroke="#7ab8f0" stroke-width="1" />
<line x1="738.76" y1="587.17" x2="738.76" y2="602.37" stroke="#7ab8f0" stroke-width="1" />
<line x1="735.26" y1="587.17" x2="742.26" y2="587.17" stroke="#7ab8f0" stroke-width="1" />
<line x1="735.26" y1="602.37" x2="742.26" y2="602.37" stroke="#7ab8f0" stroke-width="1" />
<line x1="766.38" y1="597.38" x2="766.38" y2="608.38" stroke="#7ab8f0" stroke-width="1" />
<line x1="762.88" y1="597.38" x2="769.88" y2="597.38" stroke="#7ab8f0" stroke-width="1" />
<line x1="762.88" y1="608.38" x2="769.88" y2="608.38" stroke="#7ab8f0" stroke-width="1" />
<line x1="794" y1="606.12" x2="794" y2="612.12" stroke="#7ab8f0" stroke-width="1" />
<line x1="790.5" y1="606.12" x2="797.5" y2="606.12" stroke="#7ab8f0" stroke-width="1" />
<line x1="790.5" y1="612.12" x2="797.5" y2="612.12" stroke="#7ab8f0" stroke-width="1" />
<line x1="821.62" y1="604.37" x2="821.62" y2="616.37" stroke="#7ab8f0" stroke-width="1" />
<line x1="818.12" y1="604.37" x2="825.12" y2="604.37" stroke="#7ab8f0" stroke-width="1" />
<line x1="818.12" y1="616.37" x2="825.12" y2="616.37" stroke="#7ab8f0" stroke-width="1" />
<line x1="849.24" y1="603.53" x2="849.24" y2="620.33" stroke="#7ab8f0" stroke-width="1" />
<line x1="845.74" y1="603.53" x2="852.74" y2="603.53" stroke="#7ab8f0" stroke-width="1" />
<line x1="845.74" y1="620.33" x2="852.74" y2="620.33" stroke="#7ab8f0" stroke-width="1" />
<line x1="876.86" y1="608.86" x2="876.86" y2="616.86" stroke="#7ab8f0" stroke-width="1" />
<line x1="873.36" y1="608.86" x2="880.36" y2="608.86" stroke="#7ab8f0" stroke-width="1" />
<line x1="873.36" y1="616.86" x2="880.36" y2="616.86" stroke="#7ab8f0" stroke-width="1" />
<line x1="904.48" y1="608.36" x2="904.48" y2="622.36" stroke="#7ab8f0" stroke-width="1" />
<line x1="900.98" y1="608.36" x2="907.98" y2="608.36" stroke="#7ab8f0" stroke-width="1" />
<line x1="900.98" y1="622.36" x2="907.98" y2="622.36" stroke="#7ab8f0" stroke-width="1" />
<polyline points="573.04,403.2 655.9,413.18 683.52,500.54 711.14,575.11 738.76,612.86 766.38,622.22 794,624.1 821.62,625.66 849.24,627.84 876.86,629.09 904.48,628.78" fill="none" stroke="#808080" stroke-width="1.4" stroke-linejoin="round"/>
<rect x="569.94" y="400.1" width="6.2" height="6.2" fill="#808080"/>
<rect x="652.8" y="410.08" width="6.2" height="6.2" fill="#808080"/>
<rect x="680.42" y="497.44" width="6.2" height="6.2" fill="#808080"/>
<rect x="708.04" y="572.01" width="6.2" height="6.2" fill="#808080"/>
<rect x="735.66" y="609.76" width="6.2" height="6.2" fill="#808080"/>
<rect x="763.28" y="619.12" width="6.2" height="6.2" fill="#808080"/>
<rect x="790.9" y="621" width="6.2" height="6.2" fill="#808080"/>
<rect x="818.52" y="622.56" width="6.2" height="6.2" fill="#808080"/>
<rect x="846.14" y="624.74" width="6.2" height="6.2" fill="#808080"/>
<rect x="873.76" y="625.99" width="6.2" height="6.2" fill="#808080"/>
<rect x="901.38" y="625.68" width="6.2" height="6.2" fill="#808080"/>
<polyline points="573.04,403.2 655.9,416.3 683.52,514.58 711.14,588.53 738.76,625.34 766.38,635.02 794,635.95 821.62,636.89 849.24,637.2 876.86,639.07 904.48,642.5" fill="none" stroke="#F86A6A" stroke-width="1.4" stroke-linejoin="round"/>
<circle cx="573.04" cy="403.2" r="3.6" fill="#F86A6A"/>
<circle cx="655.9" cy="416.3" r="3.6" fill="#F86A6A"/>
<circle cx="683.52" cy="514.58" r="3.6" fill="#F86A6A"/>
<circle cx="711.14" cy="588.53" r="3.6" fill="#F86A6A"/>
<circle cx="738.76" cy="625.34" r="3.6" fill="#F86A6A"/>
<circle cx="766.38" cy="635.02" r="3.6" fill="#F86A6A"/>
<circle cx="794" cy="635.95" r="3.6" fill="#F86A6A"/>
<circle cx="821.62" cy="636.89" r="3.6" fill="#F86A6A"/>
<circle cx="849.24" cy="637.2" r="3.6" fill="#F86A6A"/>
<circle cx="876.86" cy="639.07" r="3.6" fill="#F86A6A"/>
<circle cx="904.48" cy="642.5" r="3.6" fill="#F86A6A"/>
<polyline points="573.04,403.2 655.9,410.69 683.52,489.94 711.14,547.66 738.76,594.77 766.38,602.88 794,609.12 821.62,610.37 849.24,611.93 876.86,612.86 904.48,615.36" fill="none" stroke="#1E8DEB" stroke-width="1.4" stroke-linejoin="round"/>
<path d="M573.04 398.8L577.34 406.4L568.74 406.4Z" fill="#1E8DEB"/>
<path d="M655.9 406.29L660.2 413.89L651.6 413.89Z" fill="#1E8DEB"/>
<path d="M683.52 485.54L687.82 493.14L679.22 493.14Z" fill="#1E8DEB"/>
<path d="M711.14 543.26L715.44 550.86L706.84 550.86Z" fill="#1E8DEB"/>
<path d="M738.76 590.37L743.06 597.97L734.46 597.97Z" fill="#1E8DEB"/>
<path d="M766.38 598.48L770.68 606.08L762.08 606.08Z" fill="#1E8DEB"/>
<path d="M794 604.72L798.3 612.32L789.7 612.32Z" fill="#1E8DEB"/>
<path d="M821.62 605.97L825.92 613.57L817.32 613.57Z" fill="#1E8DEB"/>
<path d="M849.24 607.53L853.54 615.13L844.94 615.13Z" fill="#1E8DEB"/>
<path d="M876.86 608.46L881.16 616.06L872.56 616.06Z" fill="#1E8DEB"/>
<path d="M904.48 610.96L908.78 618.56L900.18 618.56Z" fill="#1E8DEB"/>
<rect x="546" y="372.3" width="386.1" height="311.6" fill="none" stroke="#262626" stroke-width="1.5"/>
<line x1="543" y1="621.6" x2="546" y2="621.6" stroke="#262626" stroke-width="1.5" />
<line x1="543" y1="559.2" x2="546" y2="559.2" stroke="#262626" stroke-width="1.5" />
<line x1="543" y1="496.8" x2="546" y2="496.8" stroke="#262626" stroke-width="1.5" />
<line x1="543" y1="434.4" x2="546" y2="434.4" stroke="#262626" stroke-width="1.5" />
<line x1="543" y1="372" x2="546" y2="372" stroke="#262626" stroke-width="1.5" />
<line x1="540" y1="652.8" x2="546" y2="652.8" stroke="#262626" stroke-width="1.5" />
<text x="535" y="657.8" font-size="15.6" text-anchor="end" font-weight="normal" fill="#111" >0.2</text>
<line x1="540" y1="590.4" x2="546" y2="590.4" stroke="#262626" stroke-width="1.5" />
<text x="535" y="595.4" font-size="15.6" text-anchor="end" font-weight="normal" fill="#111" >0.4</text>
<line x1="540" y1="528" x2="546" y2="528" stroke="#262626" stroke-width="1.5" />
<text x="535" y="533" font-size="15.6" text-anchor="end" font-weight="normal" fill="#111" >0.6</text>
<line x1="540" y1="465.6" x2="546" y2="465.6" stroke="#262626" stroke-width="1.5" />
<text x="535" y="470.6" font-size="15.6" text-anchor="end" font-weight="normal" fill="#111" >0.8</text>
<line x1="540" y1="403.2" x2="546" y2="403.2" stroke="#262626" stroke-width="1.5" />
<text x="535" y="408.2" font-size="15.6" text-anchor="end" font-weight="normal" fill="#111" >1.0</text>
<line x1="573.04" y1="683.9" x2="573.04" y2="686.9" stroke="#262626" stroke-width="1.5" />
<line x1="628.28" y1="683.9" x2="628.28" y2="686.9" stroke="#262626" stroke-width="1.5" />
<line x1="683.52" y1="683.9" x2="683.52" y2="686.9" stroke="#262626" stroke-width="1.5" />
<line x1="738.76" y1="683.9" x2="738.76" y2="686.9" stroke="#262626" stroke-width="1.5" />
<line x1="794" y1="683.9" x2="794" y2="686.9" stroke="#262626" stroke-width="1.5" />
<line x1="849.24" y1="683.9" x2="849.24" y2="686.9" stroke="#262626" stroke-width="1.5" />
<line x1="904.48" y1="683.9" x2="904.48" y2="686.9" stroke="#262626" stroke-width="1.5" />
<line x1="545.42" y1="683.9" x2="545.42" y2="689.9" stroke="#262626" stroke-width="1.5" />
<text x="545.42" y="707" font-size="15.6" text-anchor="middle" font-weight="normal" fill="#111" >−40</text>
<line x1="600.66" y1="683.9" x2="600.66" y2="689.9" stroke="#262626" stroke-width="1.5" />
<text x="600.66" y="707" font-size="15.6" text-anchor="middle" font-weight="normal" fill="#111" >−20</text>
<line x1="655.9" y1="683.9" x2="655.9" y2="689.9" stroke="#262626" stroke-width="1.5" />
<text x="655.9" y="707" font-size="15.6" text-anchor="middle" font-weight="normal" fill="#111" >0</text>
<line x1="711.14" y1="683.9" x2="711.14" y2="689.9" stroke="#262626" stroke-width="1.5" />
<text x="711.14" y="707" font-size="15.6" text-anchor="middle" font-weight="normal" fill="#111" >20</text>
<line x1="766.38" y1="683.9" x2="766.38" y2="689.9" stroke="#262626" stroke-width="1.5" />
<text x="766.38" y="707" font-size="15.6" text-anchor="middle" font-weight="normal" fill="#111" >40</text>
<line x1="821.62" y1="683.9" x2="821.62" y2="689.9" stroke="#262626" stroke-width="1.5" />
<text x="821.62" y="707" font-size="15.6" text-anchor="middle" font-weight="normal" fill="#111" >60</text>
<line x1="876.86" y1="683.9" x2="876.86" y2="689.9" stroke="#262626" stroke-width="1.5" />
<text x="876.86" y="707" font-size="15.6" text-anchor="middle" font-weight="normal" fill="#111" >80</text>
<line x1="932.1" y1="683.9" x2="932.1" y2="689.9" stroke="#262626" stroke-width="1.5" />
<text x="932.1" y="707" font-size="15.6" text-anchor="middle" font-weight="normal" fill="#111" >100</text>
<text x="739.5" y="727.2" font-size="16.4" text-anchor="middle" font-weight="normal" fill="#111" >Time (min)</text>
<text transform="translate(504,527.5) rotate(-90)" x="0" y="0" font-size="16" text-anchor="middle" fill="#111">C/C<tspan font-size="11.52" dy="4">0</tspan></text>
<line x1="776.2" y1="401.7" x2="794.7" y2="401.7" stroke="#808080" stroke-width="1.4" />
<rect x="782" y="398.6" width="6.2" height="6.2" fill="#808080"/>
<text x="808.4" y="407.4" font-size="16" text-anchor="start" font-weight="normal" fill="#111" >Paracetamol</text>
<line x1="776.2" y1="421.45" x2="794.7" y2="421.45" stroke="#F86A6A" stroke-width="1.4" />
<circle cx="785.1" cy="421.45" r="3.6" fill="#F86A6A"/>
<text x="808.4" y="427.15" font-size="16" text-anchor="start" font-weight="normal" fill="#111" >Ciprofloxacin</text>
<line x1="776.2" y1="441.2" x2="794.7" y2="441.2" stroke="#1E8DEB" stroke-width="1.4" />
<path d="M785.1 436.8L789.4 444.4L780.8 444.4Z" fill="#1E8DEB"/>
<text x="808.4" y="446.9" font-size="16" text-anchor="start" font-weight="normal" fill="#111" >Aureomycin</text>
<text x="474.5" y="390" font-size="30" text-anchor="start" font-weight="bold" fill="#000" >(d)</text>
</svg></body></html>
